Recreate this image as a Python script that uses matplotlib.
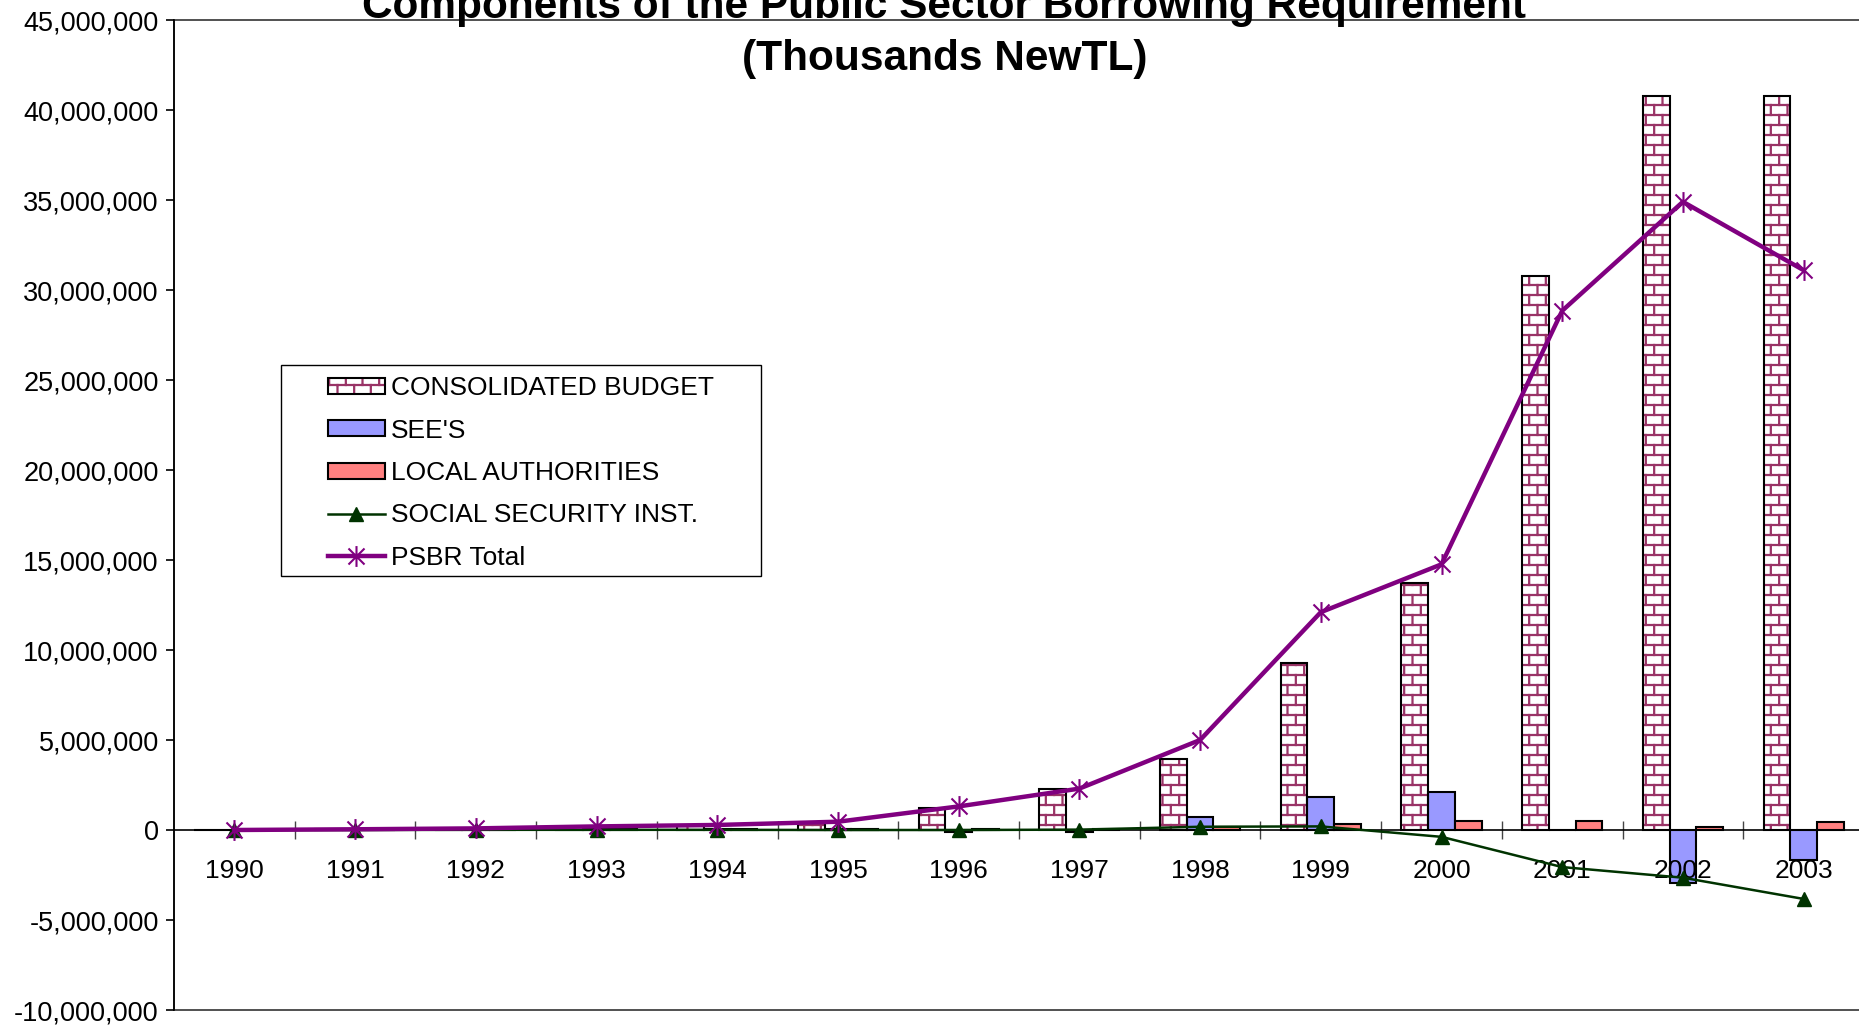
import warnings
import numpy as np
import matplotlib
matplotlib.use('Agg')
import matplotlib.pyplot as plt
import matplotlib.hatch as mhatch
from matplotlib.path import Path
from matplotlib.patches import Rectangle
from matplotlib.legend_handler import HandlerTuple
from matplotlib.ticker import FuncFormatter

warnings.filterwarnings('ignore')

# values in thousands NewTL
years = ['1990', '1991', '1992', '1993', '1994', '1995', '1996',
         '1997', '1998', '1999', '2000', '2001', '2002', '2003']
consolidated_budget = [20000, 40000, 80000, 160000, 220000, 380000, 1250000,
                       2280000, 3940000, 9300000, 13740000, 30800000, 40800000, 40800000]
sees = [10000, 20000, 30000, 50000, 60000, 50000, -100000,
        -120000, 740000, 1850000, 2130000, 0, -2960000, -1670000]
local_authorities = [5000, 10000, 20000, 30000, 30000, 30000, 40000,
                     60000, 150000, 330000, 500000, 520000, 150000, 440000]
social_security = [0, 0, 10000, 10000, 10000, 0, 0,
                   20000, 180000, 200000, -380000, -2060000, -2650000, -3830000]
psbr_total = [0, 40000, 90000, 200000, 280000, 460000, 1310000,
              2300000, 5000000, 12100000, 14760000, 28850000, 34900000, 31100000]


# brick pattern for the consolidated budget bars
class BrickHatch(mhatch.HatchPatternBase):
    rows = 10
    cols = 6

    def __init__(self, hatch, density):
        on = 'b' in hatch
        nseg = self.rows + self.rows * self.cols + self.cols
        self.num_vertices = nseg * 2 if on else 0

    def set_vertices_and_codes(self, vertices, codes):
        h = 1.0 / self.rows
        w = 1.0 / self.cols
        segs = []
        for k in range(self.rows):
            y = (k + 0.5) * h
            segs.append(((0.0, y), (1.0, y)))
        for k in range(self.rows):
            y0 = (k + 0.5) * h
            y1 = min(y0 + h, 1.0)
            off = 0.25 if k % 2 == 0 else 0.75
            for j in range(self.cols):
                x = (j + off) * w
                segs.append(((x, y0), (x, y1)))
                if k == self.rows - 1:
                    segs.append(((x, 0.0), (x, 0.5 * h)))
        pts = np.array(segs).reshape(-1, 2)
        vertices[:] = pts
        codes[0::2] = Path.MOVETO
        codes[1::2] = Path.LINETO


mhatch._hatch_types.append(BrickHatch)

plt.rcParams['font.family'] = ['Liberation Sans', 'DejaVu Sans']
plt.rcParams['hatch.linewidth'] = 1.6

fig = plt.figure(figsize=(18.59, 10.25), dpi=100)
ax = fig.add_axes([174 / 1859, 15 / 1025, 1690 / 1859, 990 / 1025])

x = np.arange(len(years))
w = 0.221

cb_fill = ax.bar(x - w, consolidated_budget, w, color='white', edgecolor='#993366',
                 linewidth=0, hatch='b', zorder=1)
cb_edge = ax.bar(x - w, consolidated_budget, w, fill=False, edgecolor='black',
                 linewidth=1.5, zorder=1.1)
see_bars = ax.bar(x, sees, w, color='#9999FF', edgecolor='black', linewidth=1.5, zorder=1)
la_bars = ax.bar(x + w, local_authorities, w, color='#FF8080', edgecolor='black',
                 linewidth=1.5, zorder=1)

ssi_line, = ax.plot(x, social_security, color='#003300', linewidth=1.8, marker='^',
                    markersize=10, zorder=3)

star = Path([(-1, -1), (1, 1), (-1, 1), (1, -1), (0, -1.3), (0, 1.3)],
            [Path.MOVETO, Path.LINETO, Path.MOVETO, Path.LINETO, Path.MOVETO, Path.LINETO])
psbr_line, = ax.plot(x, psbr_total, color='#800080', linewidth=3.2, marker=star,
                     markersize=15, markeredgewidth=1.5, markeredgecolor='#800080',
                     markerfacecolor='none', zorder=3.2)

ax.set_xlim(-0.5, len(years) - 0.5)
ax.set_ylim(-10000000, 45000000)
ax.set_yticks(np.arange(-10000000, 45000001, 5000000))
ax.yaxis.set_major_formatter(FuncFormatter(lambda v, p: f'{v:,.0f}'))

ax.spines['bottom'].set_position(('data', 0))
ax.spines['bottom'].set_linewidth(1.2)
ax.spines['left'].set_linewidth(1.2)
ax.spines['top'].set_visible(False)
ax.spines['right'].set_visible(False)
ax.patch.set_edgecolor('#333333')
ax.patch.set_linewidth(1.2)

ax.set_xticks(np.arange(0.5, len(years) - 1, 1))
ax.set_xticklabels([])
ax.set_xticks(x, minor=True)
ax.set_xticklabels(years, minor=True)
ax.tick_params(axis='x', which='major', direction='inout', length=13, width=1, color='#444444')
ax.tick_params(axis='x', which='minor', length=0, pad=21, labelsize=19)
ax.tick_params(axis='y', direction='out', length=6, width=1.2, pad=5, labelsize=19.5)

fig.text(0.508, 1 - 18 / 1025, 'Components of the Public Sector Borrowing Requirement',
         ha='center', va='baseline', fontsize=30.5, fontweight='bold')
fig.text(0.508, 1 - 70 / 1025, '(Thousands NewTL)',
         ha='center', va='baseline', fontsize=30.5, fontweight='bold')

handles = [(cb_fill[0], cb_edge[0]), see_bars[0], la_bars[0], ssi_line, psbr_line]
labels = ['CONSOLIDATED BUDGET', "SEE'S", 'LOCAL AUTHORITIES',
          'SOCIAL SECURITY INST.', 'PSBR Total']
leg = fig.legend(handles, labels, loc='center', bbox_to_anchor=(521 / 1859, 1 - 473 / 1025),
                 bbox_transform=fig.transFigure, frameon=False, fontsize=19,
                 handlelength=2.15, handleheight=0.55, handletextpad=0.25,
                 labelspacing=0.7, borderpad=0.2,
                 handler_map={tuple: HandlerTuple(ndivide=1)})
fig.add_artist(Rectangle((281 / 1859, 1 - 576 / 1025), 480 / 1859, 211 / 1025,
                         transform=fig.transFigure, fill=False, edgecolor='black',
                         linewidth=1.0))

fig.savefig('out.png', dpi=100)
